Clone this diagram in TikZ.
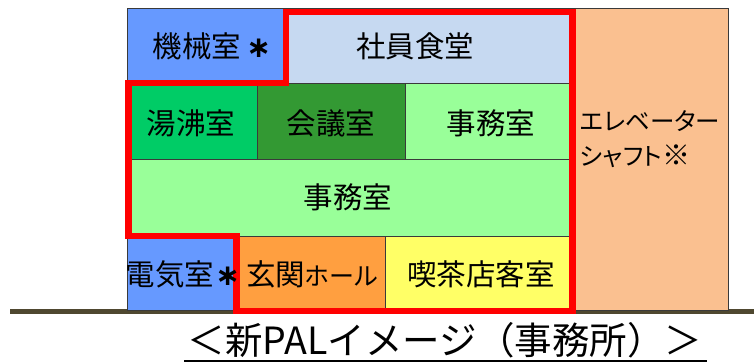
\documentclass[tikz,border=0pt]{standalone}
\usepackage{fontspec}
\setmainfont{Noto Sans CJK JP}
\newfontfamily\jpp{Noto Sans CJK JP}[RawFeature=+palt]
\newfontfamily\astfont{DejaVu Sans}[BoldFont={DejaVu Sans Bold}]
\newcommand{\bigast}[1]{\hspace{#1}{\astfont\bfseries ∗}}
\newcommand{\smallkana}[1]{{\fontsize{25}{30}\selectfont #1}}
\definecolor{mechblue}{HTML}{6699FF}
\definecolor{canteen}{HTML}{C6D9F1}
\definecolor{kettle}{HTML}{00CC66}
\definecolor{meeting}{HTML}{339933}
\definecolor{office}{HTML}{99FF99}
\definecolor{entrance}{HTML}{FF9F40}
\definecolor{cafe}{HTML}{FFFF66}
\definecolor{shaft}{HTML}{FAC090}
\definecolor{ground}{HTML}{4F4830}
\definecolor{edge}{HTML}{3A3A3A}
\definecolor{outline}{HTML}{FF0000}
\tikzset{
  room/.style={draw=edge, line width=0.9pt},
  lbl/.style={font=\jpp\fontsize{29.5}{32}\selectfont, inner sep=0pt, anchor=center},
  shafttxt/.style={font=\jpp\fontsize{24.5}{30}\selectfont, inner sep=0pt, anchor=west, align=left},
  redline/.style={draw=outline, line width=6.5pt, line join=miter},
}
\begin{document}
\begin{tikzpicture}[x=1pt,y=-1pt]
\useasboundingbox (0,0) rectangle (754,362);
% ground
\fill[ground] (10,308.5) rectangle (754,313.5);
% rooms
\filldraw[room, fill=mechblue] (127,8) rectangle (286,83);
\filldraw[room, fill=canteen] (286,8) rectangle (572,83);
\filldraw[room, fill=shaft] (572,8) rectangle (728,310);
\filldraw[room, fill=kettle] (129,83) rectangle (257,159);
\filldraw[room, fill=meeting] (257,83) rectangle (405,159);
\filldraw[room, fill=office] (405,83) rectangle (572,159);
\filldraw[room, fill=office] (129,159) rectangle (572,236);
\filldraw[room, fill=mechblue] (127,236) rectangle (236,310);
\filldraw[room, fill=entrance] (236,236) rectangle (385,310);
\filldraw[room, fill=cafe] (385,236) rectangle (572,310);
% red outline
\draw[redline] (286,12) -- (572.5,12) -- (572.5,311) -- (236.5,311) -- (236.5,236) -- (128.5,236) -- (128.5,83) -- (286,83) -- cycle;
% labels
\node[lbl] (kikai) at (212,46) {機械室\bigast{5pt}};
\node[lbl] (shain) at (415,46) {社員食堂};
\node[lbl] (yuwakashi) at (191,123) {湯沸室};
\node[lbl] (kaigi) at (331,123) {会議室};
\node[lbl] (jimu1) at (491,123) {事務室};
\node[lbl] (jimu2) at (348,197) {事務室};
\node[lbl] (denki) at (183,274) {電気室\bigast{1pt}};
\node[lbl] (genkan) at (312,274) {玄関\smallkana{ホール}};
\node[lbl] (kissa) at (481,274) {喫茶店客室};
\node[shafttxt] (ev1) at (580,121) {エレベーター};
\node[shafttxt] (ev2) at (580,156) {シャフト{\fontsize{28}{30}\selectfont ※}};
% caption
\node[font=\fontsize{37.5}{40}\selectfont, inner sep=0pt] (cap) at (445,340) {＜新PALイメージ（事務所）＞};
\draw[line width=1.2pt] (184,361) -- (707,361);
\end{tikzpicture}
\end{document}
